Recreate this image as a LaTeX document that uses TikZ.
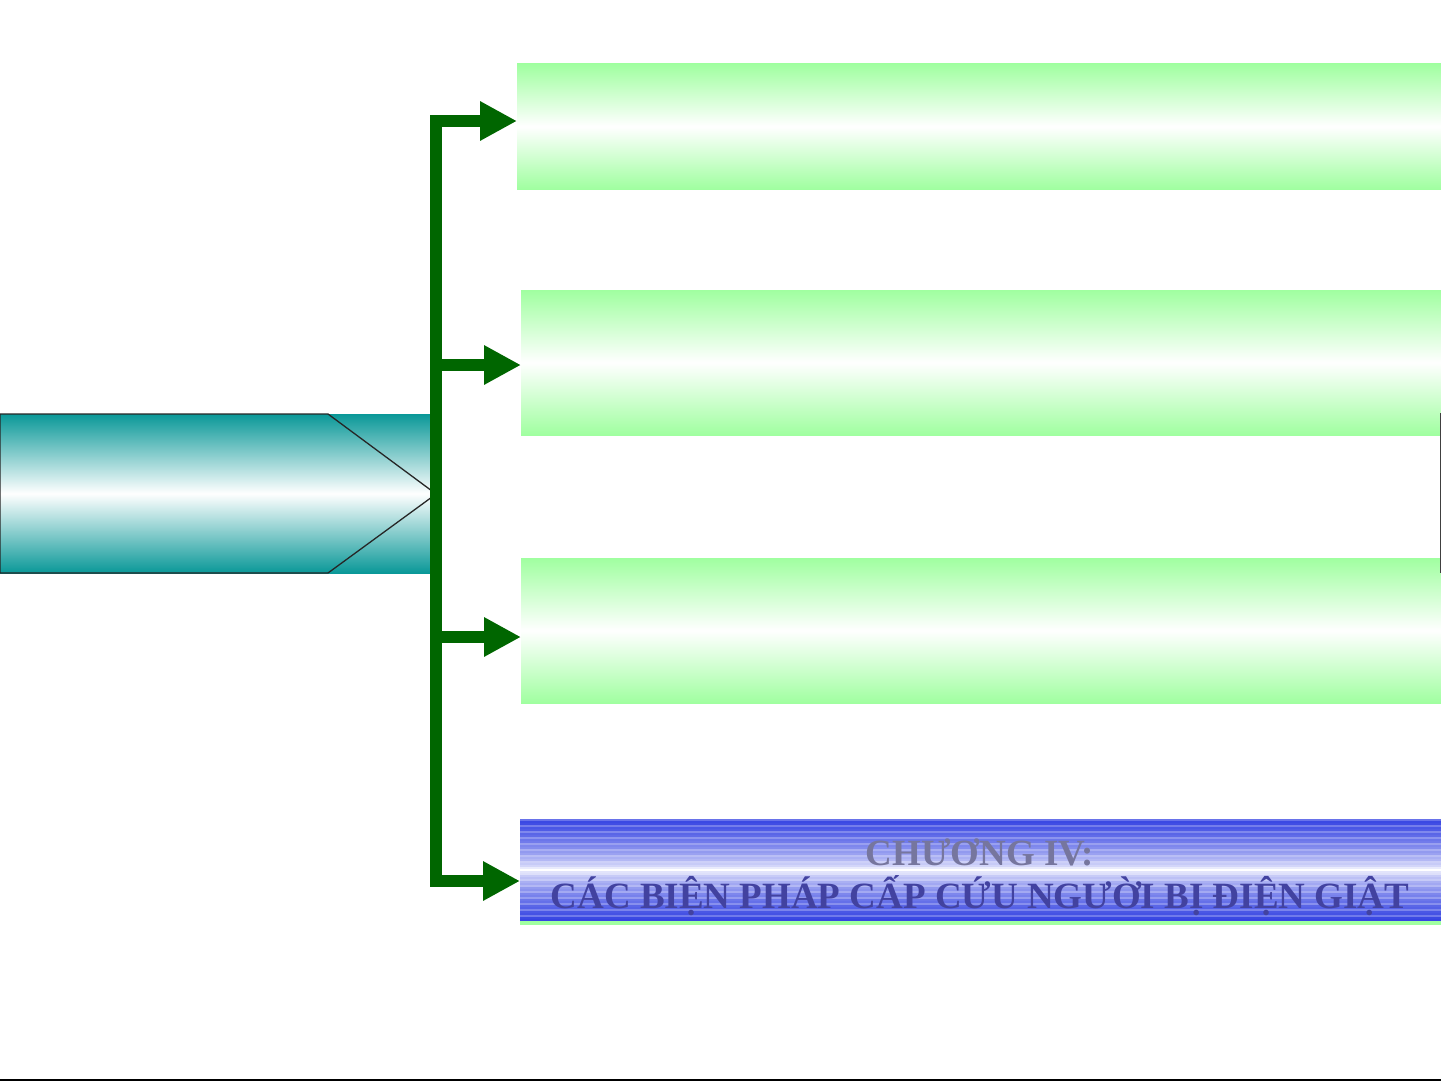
\documentclass[tikz,border=0pt]{standalone}
\usepackage{fontspec}
\setmainfont{Liberation Serif}
\usetikzlibrary{arrows.meta}
\definecolor{arrowgreen}{RGB}{0,102,0}
\definecolor{lightgreen}{RGB}{160,255,160}
\definecolor{tealc}{RGB}{10,152,152}
\definecolor{bandblue}{RGB}{52,66,226}
\definecolor{textgray}{RGB}{118,118,158}
\definecolor{textblue}{RGB}{66,66,160}
\tikzset{
  greenbox/.style={draw=none, inner sep=0pt, outer sep=0pt, anchor=north west,
    top color=lightgreen, bottom color=lightgreen, middle color=white},
  branch/.style={draw=arrowgreen, line width=12pt,
    -{Triangle[length=37pt,width=37pt]}},
  trunk/.style={draw=arrowgreen, line width=12pt}
}
\begin{document}
\begin{tikzpicture}[x=1pt,y=-1pt]
\useasboundingbox (0,0) rectangle (1441,1081);
% left teal shape
\shade[top color=tealc, bottom color=tealc, middle color=white] (0,414) rectangle (432,573);
\draw[line width=1.3pt, draw=black!85] (432,491) -- (328,414) -- (0,414) -- (0,573) -- (328,573) -- (432,497);
\node[inner sep=0pt, outer sep=0pt, minimum width=432pt, minimum height=159pt, anchor=north west] (src) at (0,414) {};
% green boxes
\node[greenbox, minimum width=924pt, minimum height=125pt] (b1) at (517,64) {};
\node[greenbox, minimum width=920pt, minimum height=145pt] (b2) at (521,290) {};
\node[greenbox, minimum width=920pt, minimum height=145pt] (b3) at (521,558) {};
% right edge thin line
\draw[line width=1.5pt, draw=black!75] (1440.5,413) -- (1440.5,573);
% blue chapter box
\fill[lightgreen] (520,819) rectangle (1441,925);
\foreach \i in {0,...,50}{
  \pgfmathsetmacro{\yy}{819+2*\i+1}
  \pgfmathsetmacro{\dd}{abs(\yy-870)/51}
  \pgfmathsetmacro{\pp}{min(100,100*(\dd)^0.6*(mod(\i,3)==0 ? 0.75 : 1))}
  \draw[line width=2.1pt, draw=bandblue!\pp!white] (520,\yy) -- (1441,\yy);
}
\node[inner sep=0pt, outer sep=0pt, minimum width=921pt, minimum height=102pt, anchor=north west] (b4) at (520,819) {};
\node[inner sep=0pt, align=center, font=\fontsize{37}{43}\selectfont\bfseries] (t4) at (980,877)
  {\textcolor{textgray}{CHƯƠNG IV:}\\\textcolor{textblue}{CÁC BIỆN PHÁP CẤP CỨU NGƯỜI BỊ ĐIỆN GIẬT}};
% connectors
\coordinate (bartop) at (436,115);
\coordinate (barbot) at (436,887);
\draw[trunk] (bartop) -- (barbot);
\coordinate (j1) at (430,121);
\coordinate (j2) at (430,365);
\coordinate (j3) at (430,637);
\coordinate (j4) at (430,881);
\draw[branch] (j1) -- (b1.west |- j1);
\draw[branch] (j2) -- (b2.west |- j2);
\draw[branch] (j3) -- (b3.west |- j3);
\draw[branch] (j4) -- (b4.west |- j4);
% bottom line
\draw[line width=2pt] (0,1079.5) -- (1441,1079.5);
\end{tikzpicture}
\end{document}
